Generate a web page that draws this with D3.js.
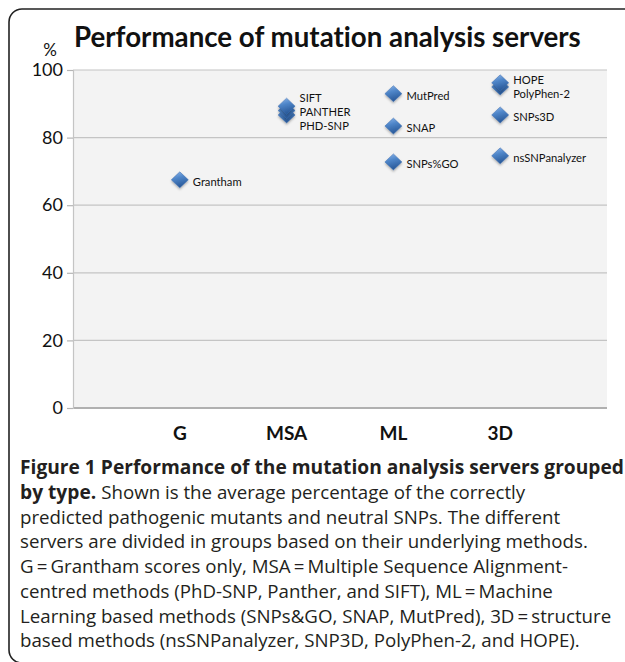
<!DOCTYPE html>
<html>
<head>
<meta charset="utf-8">
<script src="https://cdn.jsdelivr.net/npm/d3@7"></script>
<style>
  html, body { margin: 0; padding: 0; background: #fff; overflow: hidden; }
  svg text { font-variant-ligatures: none; }
</style>
</head>
<body>
<svg id="chart" width="625" height="662"></svg>
<script>
const categories = ['G', 'MSA', 'ML', '3D'];
const servers = ['Grantham', 'SIFT', 'PANTHER', 'PHD-SNP', 'MutPred', 'SNAP', 'SNPs%GO',
  'HOPE', 'PolyPhen-2', 'SNPs3D', 'nsSNPanalyzer'];
const serverGroup = ['G', 'MSA', 'MSA', 'MSA', 'ML', 'ML', 'ML', '3D', '3D', '3D', '3D'];
const accuracy = [67.5, 89.3, 88, 86.7, 93, 83.4, 72.8, 96.2, 95, 86.7, 74.6];
const yTicks = [0, 20, 40, 60, 80, 100];

const title = 'Performance of mutation analysis servers';
const captionBold = ['Figure 1', 'Performance of the mutation analysis servers grouped', 'by type.'];
const captionLines = [
  'Shown is the average percentage of the correctly',
  'predicted pathogenic mutants and neutral SNPs. The different',
  'servers are divided in groups based on their underlying methods.',
  'G\u2009=\u2009Grantham scores only, MSA\u2009=\u2009Multiple Sequence Alignment-',
  'centred methods (PhD-SNP, Panther, and SIFT), ML\u2009=\u2009Machine',
  'Learning based methods (SNPs&GO, SNAP, MutPred), 3D\u2009=\u2009structure',
  'based methods (nsSNPanalyzer, SNP3D, PolyPhen-2, and HOPE).'
];

const svg = d3.select('#chart');
const chartFont = 'Lato, "Open Sans", sans-serif';
const capFont = '"Open Sans", Lato, sans-serif';

// outer frame (runs off the right and bottom edge like the figure)
svg.append('rect')
  .attr('x', 9).attr('y', 9)
  .attr('width', 700).attr('height', 654)
  .attr('rx', 13)
  .attr('fill', 'none')
  .attr('stroke', '#222')
  .attr('stroke-width', 1.6);

const plot = { left: 73, right: 607, top: 70, bottom: 408 };

const x = d3.scaleLinear()
  .domain([0, categories.length + 1])
  .range([plot.left, plot.right]);

const y = d3.scaleLinear()
  .domain([0, 100])
  .range([plot.bottom, plot.top]);

// plot background
svg.append('rect')
  .attr('x', plot.left).attr('y', plot.top)
  .attr('width', plot.right - plot.left)
  .attr('height', plot.bottom - plot.top)
  .attr('fill', '#f3f3f3');

// gridlines
svg.append('g')
  .selectAll('line')
  .data(yTicks.filter(d => d > 0))
  .enter().append('line')
  .attr('x1', plot.left).attr('x2', plot.right)
  .attr('y1', d => y(d)).attr('y2', d => y(d))
  .attr('stroke', '#c4c4c4')
  .attr('stroke-width', 1.2);

// baseline
svg.append('line')
  .attr('x1', plot.left).attr('x2', plot.right)
  .attr('y1', y(0)).attr('y2', y(0))
  .attr('stroke', '#b0b0b0')
  .attr('stroke-width', 2);

// y axis
const yAxis = svg.append('g')
  .attr('transform', `translate(${plot.left},0)`)
  .call(d3.axisLeft(y).tickValues(yTicks).tickSize(6).tickPadding(4));
yAxis.select('.domain').attr('stroke', '#c4c4c4').attr('stroke-width', 1.2);
yAxis.selectAll('.tick line').attr('stroke', '#b5b5b5').attr('stroke-width', 1.2);
yAxis.selectAll('.tick text')
  .attr('fill', '#111')
  .style('font-family', chartFont)
  .style('font-size', '18px');

// x category labels
svg.append('g')
  .selectAll('text')
  .data(categories)
  .enter().append('text')
  .attr('x', (d, i) => x(i + 1))
  .attr('y', 440)
  .attr('text-anchor', 'middle')
  .style('font-family', chartFont)
  .style('font-weight', 'bold')
  .style('font-size', '19px')
  .attr('fill', '#111')
  .text(d => d);

// title and unit
svg.append('text')
  .attr('x', 74).attr('y', 47)
  .style('font-family', chartFont)
  .style('font-weight', 'bold')
  .style('font-size', '27.7px')
  .attr('fill', '#111')
  .text(title);

svg.append('text')
  .attr('x', 50).attr('y', 56)
  .attr('text-anchor', 'middle')
  .style('font-family', chartFont)
  .style('font-size', '17px')
  .attr('fill', '#111')
  .text('%');

// diamond marker gradient
const defs = svg.append('defs');
const grad = defs.append('linearGradient')
  .attr('id', 'dia').attr('x1', 0).attr('y1', 0).attr('x2', 0.3).attr('y2', 1);
grad.append('stop').attr('offset', '0%').attr('stop-color', '#8fb7ea');
grad.append('stop').attr('offset', '45%').attr('stop-color', '#4f86c9');
grad.append('stop').attr('offset', '100%').attr('stop-color', '#2a5a9a');
const shadow = defs.append('filter').attr('id', 'shd')
  .attr('x', '-30%').attr('y', '-30%').attr('width', '160%').attr('height', '170%');
shadow.append('feDropShadow')
  .attr('dx', 0).attr('dy', 1.5).attr('stdDeviation', 1)
  .attr('flood-color', '#000').attr('flood-opacity', 0.3);

const points = servers.map((name, i) => ({
  name,
  group: serverGroup[i],
  value: accuracy[i],
  px: x(categories.indexOf(serverGroup[i]) + 1),
  py: y(accuracy[i])
}));

// spread labels that would collide inside a group
const gap = 14;
categories.forEach(cat => {
  const grp = points.filter(p => p.group === cat).sort((a, b) => a.py - b.py);
  let cluster = [];
  const flush = () => {
    const mean = d3.mean(cluster, p => p.py);
    cluster.forEach((p, k) => { p.ly = mean + (k - (cluster.length - 1) / 2) * gap + 2; });
    cluster = [];
  };
  grp.forEach(p => {
    if (cluster.length && p.py - cluster[cluster.length - 1].py >= gap) flush();
    cluster.push(p);
  });
  if (cluster.length) flush();
  grp.forEach(p => { if (p.ly === undefined) p.ly = p.py; });
});

const diamond = (cx, cy) => {
  const w = 8.5, h = 8;
  return `M${cx},${cy - h}L${cx + w},${cy}L${cx},${cy + h}L${cx - w},${cy}Z`;
};

// draw from lowest to highest so the upper ones sit on top
svg.append('g')
  .selectAll('path')
  .data(points.slice().sort((a, b) => a.value - b.value))
  .enter().append('path')
  .attr('d', d => diamond(d.px, d.py))
  .attr('fill', 'url(#dia)')
  .attr('stroke', '#3a6db0')
  .attr('stroke-width', 0.5)
  .attr('filter', 'url(#shd)');

svg.append('g')
  .selectAll('text')
  .data(points)
  .enter().append('text')
  .attr('x', d => d.px + 13)
  .attr('y', d => d.ly)
  .attr('dy', '0.35em')
  .style('font-family', chartFont)
  .style('font-size', '11.2px')
  .attr('fill', '#111')
  .text(d => d.name);

// caption
const cap = svg.append('g')
  .style('font-family', capFont)
  .style('font-size', '18.7px')
  .attr('fill', '#231f20');

const line1 = cap.append('text').attr('x', 20).attr('y', 474)
  .style('font-size', '19.2px');
line1.append('tspan').style('font-weight', 'bold').text(captionBold[0] + ' ');
line1.append('tspan').style('font-weight', 'bold').text(captionBold[1]);

const line2 = cap.append('text').attr('x', 20).attr('y', 499);
line2.append('tspan').style('font-weight', 'bold').style('font-size', '19.2px').text(captionBold[2] + ' ');
line2.append('tspan').text(captionLines[0]);

captionLines.slice(1).forEach((t, i) => {
  cap.append('text')
    .attr('x', 20)
    .attr('y', 499 + (i + 1) * 24.7)
    .text(t);
});
</script>
</body>
</html>
